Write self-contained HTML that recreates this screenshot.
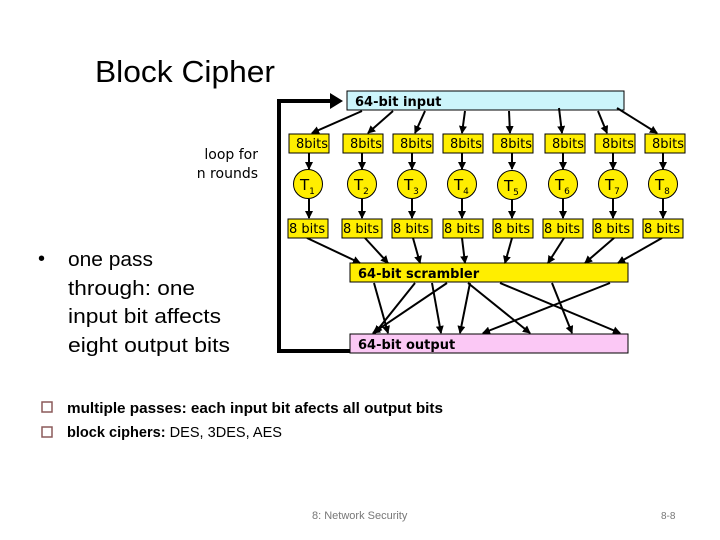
<!DOCTYPE html>
<html><head><meta charset="utf-8"><style>
body{margin:0;background:#fff}
svg{display:block}
</style></head><body>
<svg width="720" height="540" viewBox="0 0 720 540" xmlns="http://www.w3.org/2000/svg">
<defs><marker id="a" markerWidth="8" markerHeight="8" refX="7" refY="4" orient="auto" markerUnits="userSpaceOnUse"><path d="M0,0 L8,4 L0,8 Z" fill="#000"/></marker></defs>
<text x="95" y="82" font-family="Liberation Sans,sans-serif" font-size="31" fill="#000" textLength="180" lengthAdjust="spacingAndGlyphs">Block Cipher</text>
<text x="258" y="159" text-anchor="end" font-family="DejaVu Sans,sans-serif" font-size="14" fill="#000">loop for</text>
<text x="258" y="178" text-anchor="end" font-family="DejaVu Sans,sans-serif" font-size="14" fill="#000">n rounds</text>
<g font-family="Liberation Sans,sans-serif" font-size="20" fill="#000">
<text x="38" y="265">•</text>
<text x="68" y="266" textLength="85" lengthAdjust="spacingAndGlyphs">one pass</text>
<text x="68" y="295" textLength="127" lengthAdjust="spacingAndGlyphs">through: one</text>
<text x="68" y="323" textLength="153" lengthAdjust="spacingAndGlyphs">input bit affects</text>
<text x="68" y="352" textLength="162" lengthAdjust="spacingAndGlyphs">eight output bits</text>
</g>
<path d="M350,351 L279,351 L279,101 L332,101" fill="none" stroke="#000" stroke-width="4"/>
<path d="M330,93 L343,101 L330,109 Z" fill="#000"/>
<rect x="347" y="91" width="277" height="19" fill="#ccf5fb" stroke="#000" stroke-width="1"/>
<text x="355" y="106" font-family="DejaVu Sans,sans-serif" font-weight="bold" font-size="13">64-bit input</text>
<rect x="350" y="263" width="278" height="19" fill="#ffee00" stroke="#000" stroke-width="1"/>
<text x="358" y="278" font-family="DejaVu Sans,sans-serif" font-weight="bold" font-size="13">64-bit scrambler</text>
<rect x="350" y="334" width="278" height="19" fill="#fbc8f5" stroke="#000" stroke-width="1"/>
<text x="358" y="349" font-family="DejaVu Sans,sans-serif" font-weight="bold" font-size="13">64-bit output</text>
<g stroke="#000" stroke-width="2" marker-end="url(#a)">
<line x1="362" y1="111" x2="312" y2="133"/>
<line x1="393" y1="111" x2="368" y2="133"/>
<line x1="425" y1="111" x2="415" y2="133"/>
<line x1="465" y1="111" x2="462" y2="133"/>
<line x1="509" y1="111" x2="510" y2="133"/>
<line x1="559" y1="108" x2="562" y2="133"/>
<line x1="598" y1="111" x2="607" y2="133"/>
<line x1="617" y1="108" x2="657" y2="133"/>
<line x1="307" y1="238" x2="360" y2="263"/>
<line x1="365" y1="238" x2="388" y2="263"/>
<line x1="413" y1="238" x2="420" y2="263"/>
<line x1="462" y1="238" x2="465" y2="263"/>
<line x1="512" y1="238" x2="505" y2="263"/>
<line x1="564" y1="238" x2="548" y2="263"/>
<line x1="614" y1="238" x2="585" y2="263"/>
<line x1="662" y1="238" x2="618" y2="263"/>
<line x1="374" y1="283" x2="388" y2="333"/>
<line x1="415" y1="283" x2="375" y2="333"/>
<line x1="432" y1="283" x2="441" y2="333"/>
<line x1="447" y1="283" x2="373" y2="333"/>
<line x1="470" y1="283" x2="460" y2="333"/>
<line x1="468" y1="283" x2="530" y2="333"/>
<line x1="500" y1="283" x2="620" y2="333"/>
<line x1="552" y1="283" x2="572" y2="333"/>
<line x1="610" y1="283" x2="483" y2="333"/>
</g>
<g stroke="#000" stroke-width="2" marker-end="url(#a)">
<line x1="309" y1="153" x2="309" y2="169"/><line x1="362" y1="153" x2="362" y2="169"/><line x1="412" y1="153" x2="412" y2="169"/><line x1="462" y1="153" x2="462" y2="169"/><line x1="512" y1="153" x2="512" y2="169"/><line x1="563" y1="153" x2="563" y2="169"/><line x1="613" y1="153" x2="613" y2="169"/><line x1="663" y1="153" x2="663" y2="169"/>
<line x1="309" y1="199" x2="309" y2="218"/><line x1="362" y1="199" x2="362" y2="218"/><line x1="412" y1="199" x2="412" y2="218"/><line x1="462" y1="199" x2="462" y2="218"/><line x1="512" y1="199" x2="512" y2="218"/><line x1="563" y1="199" x2="563" y2="218"/><line x1="613" y1="199" x2="613" y2="218"/><line x1="663" y1="199" x2="663" y2="218"/>
</g>
<g stroke="#000" stroke-width="1" fill="#ffee00">
<rect x="289" y="134" width="40" height="19"/><rect x="343" y="134" width="40" height="19"/><rect x="393" y="134" width="40" height="19"/><rect x="443" y="134" width="40" height="19"/><rect x="493" y="134" width="40" height="19"/><rect x="545" y="134" width="40" height="19"/><rect x="595" y="134" width="40" height="19"/><rect x="645" y="134" width="40" height="19"/>
<rect x="288" y="219" width="40" height="19"/><rect x="342" y="219" width="40" height="19"/><rect x="392" y="219" width="40" height="19"/><rect x="443" y="219" width="40" height="19"/><rect x="493" y="219" width="40" height="19"/><rect x="543" y="219" width="40" height="19"/><rect x="593" y="219" width="40" height="19"/><rect x="643" y="219" width="40" height="19"/>
<circle cx="308" cy="184" r="14.5"/><circle cx="362" cy="184" r="14.5"/><circle cx="412" cy="184" r="14.5"/><circle cx="462" cy="184" r="14.5"/><circle cx="512" cy="185" r="14.5"/><circle cx="563" cy="184" r="14.5"/><circle cx="613" cy="184" r="14.5"/><circle cx="663" cy="184" r="14.5"/>
</g>
<g font-family="DejaVu Sans,sans-serif" font-size="13" fill="#000">
<text x="296" y="148">8bits</text><text x="350" y="148">8bits</text><text x="400" y="148">8bits</text><text x="450" y="148">8bits</text><text x="500" y="148">8bits</text><text x="552" y="148">8bits</text><text x="602" y="148">8bits</text><text x="652" y="148">8bits</text>
<text x="289" y="233">8 bits</text><text x="343" y="233">8 bits</text><text x="393" y="233">8 bits</text><text x="444" y="233">8 bits</text><text x="494" y="233">8 bits</text><text x="544" y="233">8 bits</text><text x="594" y="233">8 bits</text><text x="644" y="233">8 bits</text>
<g font-size="15">
<text x="300" y="190">T<tspan font-size="9" dy="4">1</tspan></text>
<text x="354" y="190">T<tspan font-size="9" dy="4">2</tspan></text>
<text x="404" y="190">T<tspan font-size="9" dy="4">3</tspan></text>
<text x="454" y="190">T<tspan font-size="9" dy="4">4</tspan></text>
<text x="504" y="191">T<tspan font-size="9" dy="4">5</tspan></text>
<text x="555" y="190">T<tspan font-size="9" dy="4">6</tspan></text>
<text x="605" y="190">T<tspan font-size="9" dy="4">7</tspan></text>
<text x="655" y="190">T<tspan font-size="9" dy="4">8</tspan></text>
</g>
</g>
<rect x="42" y="402" width="10" height="10" fill="none" stroke="#8b5a5a" stroke-width="1.5"/>
<rect x="42" y="427" width="10" height="10" fill="none" stroke="#8b5a5a" stroke-width="1.5"/>
<g font-family="Liberation Sans,sans-serif" font-size="15" fill="#000">
<text x="67" y="413" font-weight="bold" textLength="376" lengthAdjust="spacingAndGlyphs">multiple passes: each input bit afects all output bits</text>
<text x="67" y="437" textLength="215" lengthAdjust="spacingAndGlyphs"><tspan font-weight="bold">block ciphers:</tspan> DES, 3DES, AES</text>
</g>
<text x="312" y="519" font-family="Liberation Sans,sans-serif" font-size="11" fill="#777">8: Network Security</text>
<text x="661" y="519" font-family="Liberation Sans,sans-serif" font-size="10" fill="#777">8-8</text>
</svg>
</body></html>
